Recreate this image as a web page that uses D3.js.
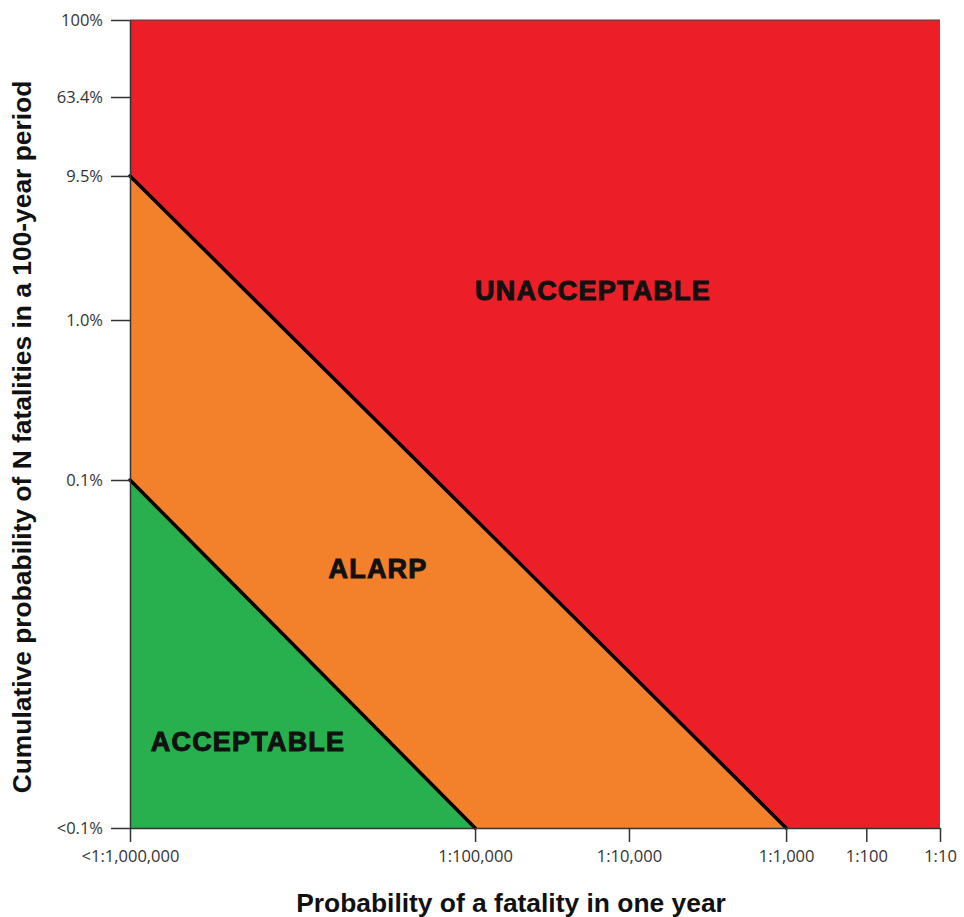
<!DOCTYPE html>
<html><head><meta charset="utf-8">
<script src="https://cdn.jsdelivr.net/npm/d3@7"></script>
<style>body{margin:0;background:#fff}</style>
</head><body>
<script>
// Data (log10 of probabilities)
const xTickValues = [-6, -5, -4, -3, -2, -1];
const xTickLabels = ["<1:1,000,000", "1:100,000", "1:10,000", "1:1,000", "1:100", "1:10"];
const yTickValues = [-3.5, -3, -2, Math.log10(0.095), Math.log10(0.634), 0];
const yTickLabels = ["<0.1%", "0.1%", "1.0%", "9.5%", "63.4%", "100%"];
const regionNames = ["UNACCEPTABLE", "ALARP", "ACCEPTABLE"];
const upperBoundary = [[-6, Math.log10(0.095)], [-3, -3.5]];
const lowerBoundary = [[-6, -3], [-5, -3.5]];

const W = 964, H = 917;
const m = {l:130, t:20, r:24, b:89};
const pw = W - m.l - m.r, ph = H - m.t - m.b;

const x = d3.scaleLinear().domain(xTickValues)
  .range([0, 0.426, 0.616, 0.81, 0.909, 1].map(f => m.l + f*pw));
const y = d3.scaleLinear().domain(yTickValues)
  .range([0, 0.4307, 0.6287, 0.807, 0.9047, 1].map(f => m.t + ph - f*ph));

const svg = d3.select("body").append("svg").attr("width", W).attr("height", H);

const xmin = xTickValues[0], xmax = xTickValues[xTickValues.length-1];
const ymin = yTickValues[0], ymax = yTickValues[yTickValues.length-1];
const line = d3.line().x(d => x(d[0])).y(d => y(d[1]));

// Red: whole plot
svg.append("path").attr("d", line([[xmin,ymin],[xmin,ymax],[xmax,ymax],[xmax,ymin]]) + "Z")
  .attr("fill", "#ec1f28");
// Orange: below upper boundary
svg.append("path").attr("d", line([[xmin,ymin], ...upperBoundary]) + "Z").attr("fill", "#f3802b");
// Green: below lower boundary
svg.append("path").attr("d", line([[xmin,ymin], ...lowerBoundary]) + "Z").attr("fill", "#28b04e");

[upperBoundary, lowerBoundary].forEach(b => {
  svg.append("path").attr("d", line(b)).attr("fill", "none").attr("stroke", "#000")
    .attr("stroke-width", 3.5).attr("stroke-linecap", "round");
});

// Axes
const xAxis = d3.axisBottom(x).tickValues(xTickValues).tickFormat((d,i) => xTickLabels[i])
  .tickSizeInner(14).tickSizeOuter(0).tickPadding(8);
const yAxis = d3.axisLeft(y).tickValues(yTickValues).tickFormat((d,i) => yTickLabels[i])
  .tickSizeInner(19).tickSizeOuter(0).tickPadding(8);
const gx = svg.append("g").attr("transform", `translate(0,${y(ymin)})`).call(xAxis);
const gy = svg.append("g").attr("transform", `translate(${x(xmin)},0)`).call(yAxis);
[gx, gy].forEach(g => {
  g.selectAll("path.domain").attr("stroke", "#333").attr("stroke-width", 1.5);
  g.selectAll(".tick line").attr("stroke", "#333").attr("stroke-width", 1.5);
  g.selectAll(".tick text").attr("fill", "#333").style("font-family", "'Open Sans', sans-serif").style("font-size", "16.5px");
});
// Top edge of plot
svg.append("line").attr("x1", x(xmin)).attr("x2", x(xmax)).attr("y1", y(ymax)).attr("y2", y(ymax))
  .attr("stroke", "#444").attr("stroke-width", 1);

// Region labels
const lab = [
  {t: regionNames[0], cx: 593, cy: 291},
  {t: regionNames[1], cx: 378, cy: 569},
  {t: regionNames[2], cx: 248, cy: 742}
];
svg.selectAll("text.region").data(lab).enter().append("text").attr("class", "region")
  .attr("x", d => d.cx).attr("y", d => d.cy).attr("text-anchor", "middle").attr("dy", "0.35em")
  .style("font-family", "'Liberation Sans', Arial, sans-serif").style("font-weight", "900")
  .style("font-size", "27px").style("letter-spacing", "1.2px").attr("fill", "#111").attr("stroke", "#111").attr("stroke-width", 1)
  .text(d => d.t);

// Axis titles
svg.append("text").attr("x", 511).attr("y", 903).attr("text-anchor", "middle").attr("dy", "0.35em")
  .style("font-family", "'Liberation Sans', Arial, sans-serif").style("font-weight", "bold").style("font-size", "26.4px")
  .attr("fill", "#111").text("Probability of a fatality in one year");
svg.append("text").attr("transform", "translate(22,437) rotate(-90)").attr("text-anchor", "middle").attr("dy", "0.35em")
  .style("font-family", "'Liberation Sans', Arial, sans-serif").style("font-weight", "bold").style("font-size", "26.4px")
  .attr("fill", "#111").text("Cumulative probability of N fatalities in a 100-year period");
</script>
</body></html>
